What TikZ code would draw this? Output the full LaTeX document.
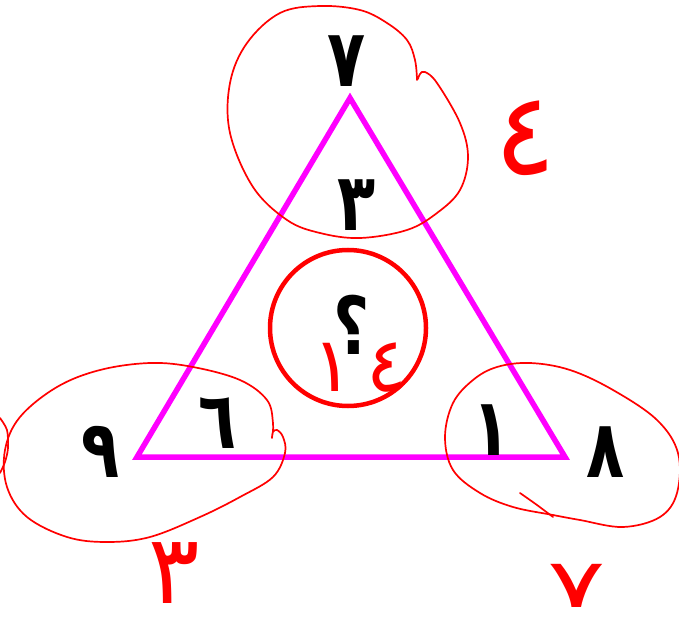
\documentclass[tikz,border=0pt]{standalone}
\usepackage{fontspec}
\newfontfamily\arfont[Script=Arabic]{DejaVu Sans}
\definecolor{mag}{RGB}{255,0,255}
\definecolor{pen}{RGB}{255,0,0}
\newcommand{\narrow}[1]{\scalebox{0.78}[1]{#1}}
\begin{document}
\begin{tikzpicture}[x=1pt,y=-1pt,
  num/.style={font=\arfont\bfseries\fontsize{80}{90}\selectfont, inner sep=0pt},
  hand/.style={font=\arfont\fontsize{#1}{#1}\selectfont, text=pen, inner sep=0pt},
  hand/.default=80,
  loopline/.style={draw=pen, line width=1.7pt, line cap=round, line join=round},
  tri/.style={draw=mag, line width=5.5pt, line join=miter}]
\useasboundingbox (0,0) rectangle (679,620);
\fill[white] (0,0) rectangle (679,620);
% triangle
\coordinate (A) at (350,98);
\coordinate (B) at (137,457);
\coordinate (C) at (565,457);
\draw[tri] (A) -- (B) -- (C) -- cycle;
% centre circle
\node[draw=pen, line width=4.5pt, circle, minimum size=156pt, inner sep=0pt] (ring) at (348,328) {};
% top loop
\draw[loopline] plot[smooth, tension=0.6] coordinates {(417,80) (415,60) (407,40) (387,23) (360,10) (320,6) (280,13) (247,43) (230,83) (230,133) (253,187) (287,220) (320,233) (360,238) (407,230) (437,213) (460,190) (468,157) (460,123) (437,83) (425,72) (420,74) (418,79)};
% left loop
\draw[loopline] plot[smooth, tension=0.6] coordinates {(272,437) (273,423) (267,400) (240,380) (193,367) (150,363) (100,370) (57,387) (20,417) (5,450) (7,487) (27,517) (67,537) (107,542) (150,537) (200,517) (240,497) (273,477) (285,453) (283,437) (277,430) (273,432) (272,438)};
\draw[loopline] plot[smooth] coordinates {(0,418) (7,430) (8,448) (5,462) (0,473)};
% right loop
\draw[loopline] plot[smooth cycle, tension=0.6] coordinates {(497,367) (530,363) (570,370) (613,390) (657,420) (678,453) (677,493) (660,517) (623,527) (580,520) (553,515) (513,507) (480,493) (453,470) (445,437) (453,403) (473,380)};
\draw[loopline] plot[smooth] coordinates {(520,493) (537,505) (553,517)};
% black numerals
\node[num] (n7) at (347,61) {\narrow{٧}};
\node[num] (n3) at (357,205) {\narrow{٣}};
\node[num] (q) at (352,325) {\narrow{؟}};
\node[num] (n9) at (101,452) {\narrow{٩}};
\node[num] (n6) at (218,423) {\narrow{٦}};
\node[num] (n1) at (492,430) {\narrow{١}};
\node[num] (n8) at (606,452) {\narrow{٨}};
% red handwritten numerals
\node[hand=115] (h4) at (525,138) {٤};
\node[hand=76] (h14) at (360,368) {١\hspace{14pt}٤};
\node[hand=96] (h3) at (174,573) {٣};
\node[hand=68] (h7) at (577,586) {\scalebox{1.6}[1]{٧}};
\end{tikzpicture}
\end{document}
